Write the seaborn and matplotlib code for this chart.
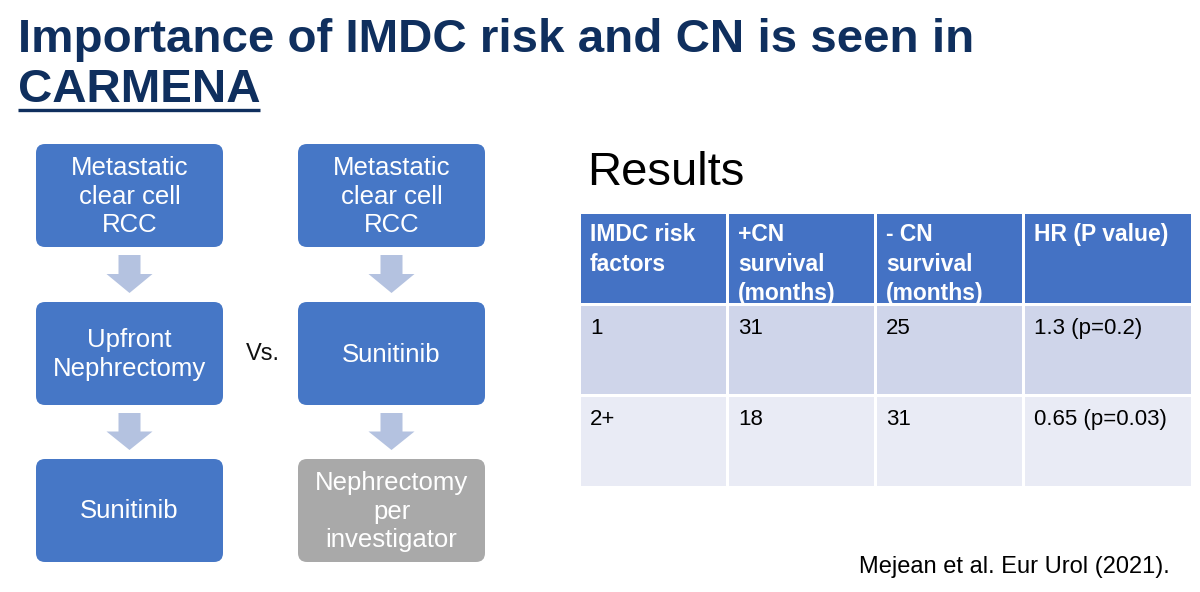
import numpy as np
import seaborn as sns
import matplotlib.pyplot as plt
from matplotlib.colors import ListedColormap
from matplotlib.patches import FancyBboxPatch, Polygon

sns.set_theme(style="white")
plt.rcParams["font.family"] = ["Liberation Sans", "DejaVu Sans"]

# ---- content ----
title_line1 = "Importance of IMDC risk and CN is seen in"
title_line2 = "CARMENA"
left_steps = ["Metastatic\nclear cell\nRCC", "Upfront\nNephrectomy", "Sunitinib"]
right_steps = ["Metastatic\nclear cell\nRCC", "Sunitinib", "Nephrectomy\nper\ninvestigator"]
versus_label = "Vs."
results_label = "Results"

col_headers = ["IMDC risk\nfactors", "+CN\nsurvival\n(months)", "- CN\nsurvival\n(months)", "HR (P value)"]
risk_groups = ["1", "2+"]
cn_survival = [31, 18]
no_cn_survival = [25, 31]
hr_values = [1.3, 0.65]
p_values = [0.2, 0.03]
citation = "Mejean et al. Eur Urol (2021)."

# ---- styles ----
NAVY = "#0f2f5e"
BLUE = "#4677c6"
GRAY = "#a9a9a9"
ARROW = "#b4c2e0"
row_colors = ["#4472c4", "#cfd5ea", "#e9ebf5"]

fig = plt.figure(figsize=(12, 5.92), dpi=100)
W, H = 1200, 592

# table: one seaborn heatmap per column so widths can differ
col_edges = [579, 727, 875, 1023, 1192]
tab_top, tab_bot = 212, 487
kinds = np.array([[0], [1], [2]])
cmap = ListedColormap(row_colors)
for c in range(len(col_headers)):
    x0, x1 = col_edges[c], col_edges[c + 1]
    cax = fig.add_axes([x0 / W, 1 - tab_bot / H, (x1 - x0) / W, (tab_bot - tab_top) / H])
    sns.heatmap(kinds, ax=cax, cmap=cmap, vmin=-0.5, vmax=2.5, cbar=False,
                linewidths=0.8, linecolor="white", xticklabels=False, yticklabels=False)
    cax.axis("off")

# overlay axes in pixel coordinates
ax = fig.add_axes([0, 0, 1, 1], zorder=5)
ax.set_xlim(0, W)
ax.set_ylim(H, 0)
ax.axis("off")
ax.patch.set_alpha(0)

# title
ax.text(18, 52, title_line1, fontsize=34.2, fontweight="bold", color=NAVY, va="baseline")
ax.text(18, 102, title_line2, fontsize=34.2, fontweight="bold", color=NAVY, va="baseline")
ax.plot([18, 260], [110, 110], color=NAVY, lw=2.4, solid_capstyle="butt")

# flowchart
box_tops = [144, 302, 459]
box_h = 103
col_x = [36, 298]
box_w = 187
for cx, steps in zip(col_x, [left_steps, right_steps]):
    for i, label in enumerate(steps):
        fc = GRAY if (steps is right_steps and i == 2) else BLUE
        ax.add_patch(FancyBboxPatch((cx, box_tops[i]), box_w, box_h,
                                    boxstyle="round,pad=0,rounding_size=9",
                                    fc=fc, ec="none"))
        ax.text(cx + box_w / 2, box_tops[i] + box_h / 2 + 1, label, color="white",
                fontsize=18.5, ha="center", va="center", multialignment="center",
                linespacing=1.22)
        if i < len(steps) - 1:
            mx = cx + box_w / 2
            y0 = box_tops[i] + box_h + 8
            yt = box_tops[i + 1] - 9
            yh = y0 + 0.5 * (yt - y0)
            pts = [(mx - 11, y0), (mx + 11, y0), (mx + 11, yh), (mx + 23, yh),
                   (mx, yt), (mx - 23, yh), (mx - 11, yh)]
            ax.add_patch(Polygon(pts, closed=True, fc=ARROW, ec="none"))

ax.text(263, 354, versus_label, fontsize=17, ha="center", va="center", color="#111111")

# results
ax.text(587, 185, results_label, fontsize=34, color="black", va="baseline")

for c, head in enumerate(col_headers):
    ax.text(col_edges[c] + 11, 223, head, color="white", fontsize=16.5,
            fontweight="bold", va="top", ha="left", linespacing=1.37)

row_tops = [318, 409]
for r in range(len(risk_groups)):
    cells = [risk_groups[r], str(cn_survival[r]), str(no_cn_survival[r]),
             f"{hr_values[r]} (p={p_values[r]})"]
    for c, txt in enumerate(cells):
        ax.text(col_edges[c] + 11, row_tops[r], txt, color="black", fontsize=16,
                va="top", ha="left")

ax.text(859, 567, citation, fontsize=17, va="center", ha="left", color="black")

fig.savefig("out.png", dpi=100)
